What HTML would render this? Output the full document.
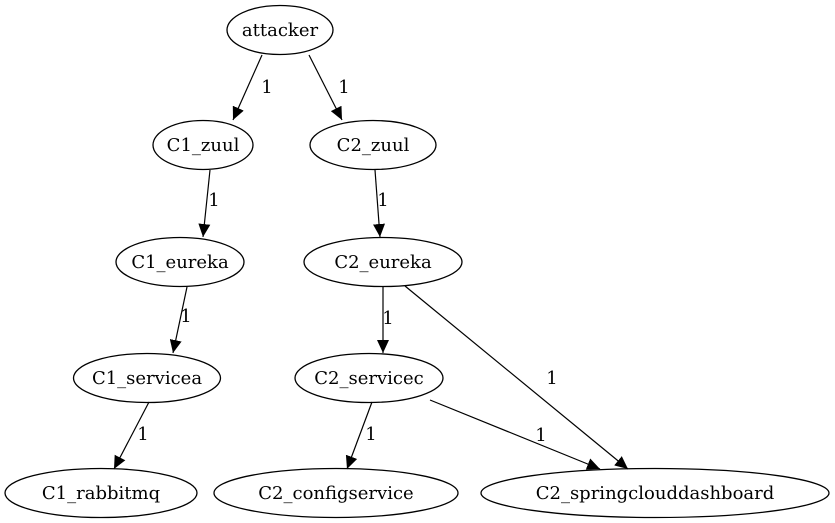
<!DOCTYPE html>
<html><head><meta charset="utf-8"><style>
html,body{margin:0;padding:0;background:#fff;}
svg{display:block;}
text{font-family:"DejaVu Serif","Liberation Serif",serif;font-size:18px;fill:#000;}
</style></head><body>
<svg width="835" height="523" viewBox="0 0 835 523" xmlns="http://www.w3.org/2000/svg">
<defs>
<marker id="a" markerUnits="userSpaceOnUse" markerWidth="14" markerHeight="12" refX="13" refY="6" orient="auto">
<path d="M0,0 L13,6 L0,12 Z" fill="#000"/>
</marker>
</defs>
<g fill="none" stroke="#000" stroke-width="1.3">
<ellipse cx="280" cy="30" rx="53" ry="24.5"/>
<ellipse cx="203" cy="145" rx="50" ry="24.5"/>
<ellipse cx="373" cy="145" rx="63" ry="24.5"/>
<ellipse cx="180" cy="262" rx="64" ry="24.5"/>
<ellipse cx="383" cy="262" rx="79" ry="24.5"/>
<ellipse cx="147" cy="378" rx="73.5" ry="24.5"/>
<ellipse cx="369" cy="378" rx="74" ry="24.5"/>
<ellipse cx="101" cy="493" rx="96" ry="24.5"/>
<ellipse cx="336" cy="493" rx="122" ry="24.5"/>
<ellipse cx="655" cy="493" rx="174" ry="24.5"/>
</g>
<g stroke="#000" stroke-width="1.2" marker-end="url(#a)">
<line x1="262" y1="55" x2="233" y2="120"/>
<line x1="309" y1="55" x2="342" y2="120"/>
<line x1="210" y1="170" x2="203" y2="237"/>
<line x1="375" y1="170" x2="380" y2="237"/>
<line x1="187" y1="287" x2="173" y2="353"/>
<line x1="383" y1="287" x2="383" y2="353"/>
<line x1="405" y1="286" x2="628" y2="469"/>
<line x1="149" y1="402" x2="114" y2="469"/>
<line x1="372" y1="402" x2="347" y2="469"/>
<line x1="430" y1="400" x2="600" y2="469"/>
</g>
<g text-anchor="middle">
<text x="280" y="36">attacker</text>
<text x="203" y="151">C1_zuul</text>
<text x="373" y="151">C2_zuul</text>
<text x="180" y="268">C1_eureka</text>
<text x="383" y="268">C2_eureka</text>
<text x="147" y="384">C1_servicea</text>
<text x="369" y="384">C2_servicec</text>
<text x="101" y="499">C1_rabbitmq</text>
<text x="336" y="499">C2_configservice</text>
<text x="655" y="499">C2_springclouddashboard</text>
</g>
<g text-anchor="middle">
<text x="267" y="93">1</text>
<text x="344" y="93">1</text>
<text x="214" y="206">1</text>
<text x="383" y="206">1</text>
<text x="186" y="322">1</text>
<text x="388" y="324">1</text>
<text x="552" y="384">1</text>
<text x="143" y="440">1</text>
<text x="371" y="440">1</text>
<text x="541" y="441">1</text>
</g>
</svg>
</body></html>
